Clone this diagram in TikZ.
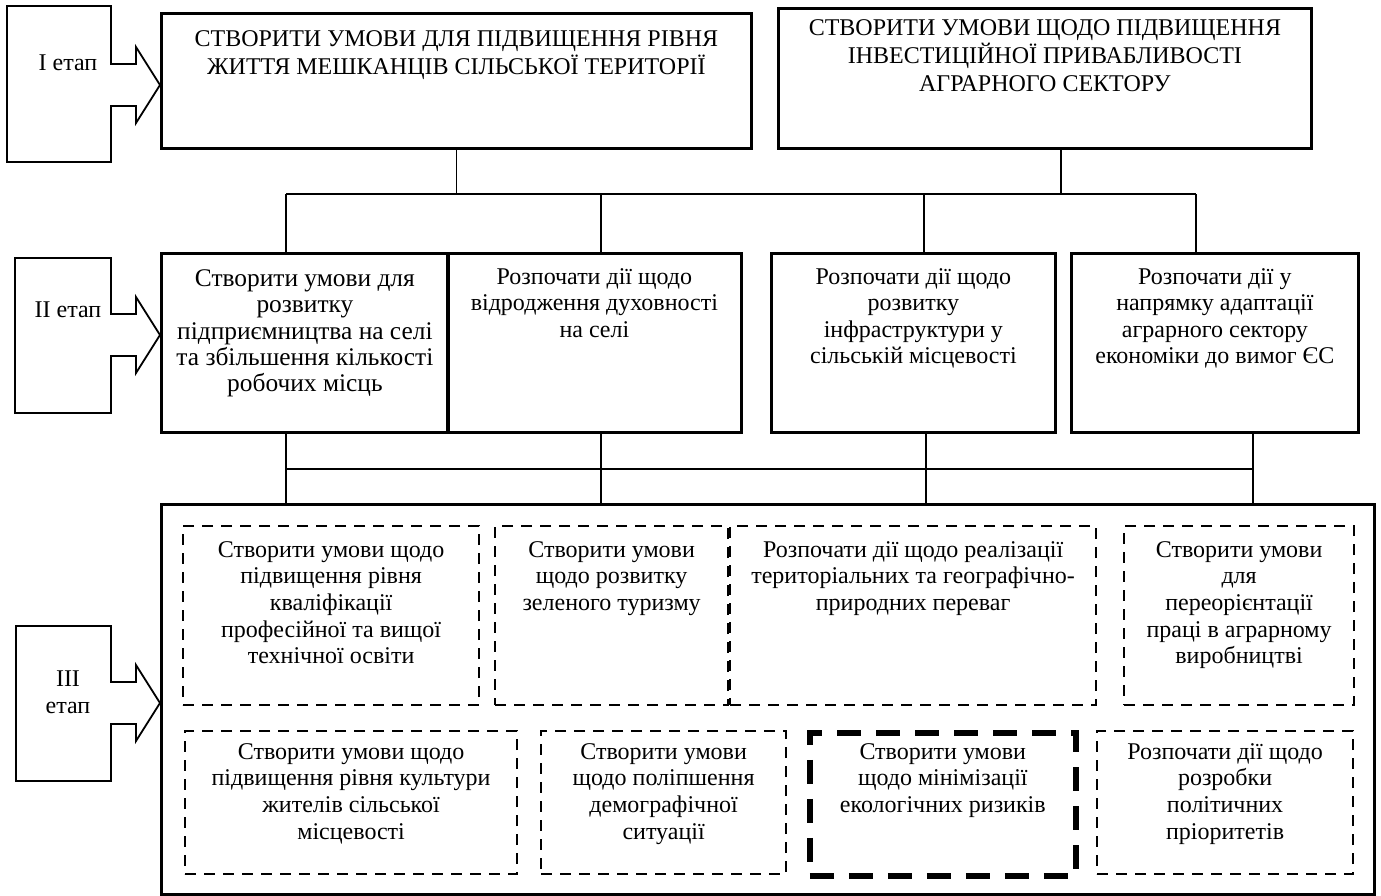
\documentclass[tikz,border=0pt]{standalone}
\usepackage{fontspec}
\setmainfont{Liberation Serif}
\usetikzlibrary{positioning}

\begin{document}
\begin{tikzpicture}[x=0.5pt, y=-0.5pt,
    font=\fontsize{12}{13.3}\selectfont,
    box/.style={draw, line width=1.4pt, anchor=north west, inner sep=0pt},
    dbox/.style={draw, line width=1.1pt, dash pattern=on 5.5pt off 4pt, anchor=north west, inner sep=0pt},
    bigdash/.style={draw, line width=2.8pt, dash pattern=on 12pt off 7.5pt, anchor=north west, inner sep=0pt},
    txt/.style={align=center, inner sep=0pt},
    link/.style={line width=0.6pt},
    stage/.style={line width=0.9pt}]

    \useasboundingbox (0,0) rectangle (1381,895);

    % етапи
    \foreach \lx/\ty/\by/\tip/\ly/\lbl [count=\i] in {7/6/162/85/63/I етап, 15/258/413/335/310/II етап, 16/626/781/703/692/III\\етап} {
        \draw[stage] (\lx,\ty) -- (111,\ty) -- (111,\tip-21) -- (136,\tip-21) -- (136,\tip-38) -- (160,\tip)
            -- (136,\tip+38) -- (136,\tip+21) -- (111,\tip+21) -- (111,\by) -- (\lx,\by) -- cycle;
        \node[txt] (stage\i) at (68,\ly) {\lbl};
    }

    % I етап
    \node[box, minimum width=295pt, minimum height=67.5pt] (top1) at (160,12) {};
    \node[txt, below=9pt of top1.north, font=\fontsize{12}{14}\selectfont] (top1-t)
        {СТВОРИТИ УМОВИ ДЛЯ ПІДВИЩЕННЯ РІВНЯ\\ЖИТТЯ МЕШКАНЦІВ СІЛЬСЬКОЇ ТЕРИТОРІЇ};
    \node[box, minimum width=266.5pt, minimum height=70pt] (top2) at (777,7) {};
    \node[txt, below=6pt of top2.north, font=\fontsize{12}{14}\selectfont] (top2-t)
        {СТВОРИТИ УМОВИ ЩОДО ПІДВИЩЕННЯ\\ІНВЕСТИЦІЙНОЇ ПРИВАБЛИВОСТІ\\АГРАРНОГО СЕКТОРУ};

    % II етап
    \foreach \n/\x/\w/\fs/\gap/\txt in {
        mid1/160/143.5/12.7/8.5/Створити умови для\\розвитку\\підприємництва на селі\\та збільшення кількості\\робочих місць,
        mid2/446/147/12/8/Розпочати дії щодо\\відродження духовності\\на селі,
        mid3/770/142/12/8/Розпочати дії щодо\\розвитку\\інфраструктури у\\сільській місцевості,
        mid4/1070/143.5/12/8/Розпочати дії у\\напрямку адаптації\\аграрного сектору\\економіки до вимог ЄС} {
        \node[box, minimum width=\w pt, minimum height=89.5pt] (\n) at (\x,252) {};
        \node[txt, below=\gap pt of \n.north, font=\fontsize{\fs}{13.2}\selectfont] (\n-t) {\txt};
    }

    % III етап
    \node[box, line width=1.5pt, minimum width=606.5pt, minimum height=195pt] (main) at (160,503) {};
    \foreach \n/\x/\w/\txt in {
        low1/182/148/Створити умови щодо\\підвищення рівня\\кваліфікації\\професійної та вищої\\технічної освіти,
        low2/494/116.5/Створити умови\\щодо розвитку\\зеленого туризму,
        low3/729/183/Розпочати дії щодо реалізації\\територіальних та географічно-\\природних переваг,
        low4/1123/115/Створити умови\\для\\переорієнтації\\праці в аграрному\\виробництві} {
        \node[dbox, minimum width=\w pt, minimum height=89.5pt] (\n) at (\x,525) {};
        \node[txt, below=8pt of \n.north] (\n-t) {\txt};
    }
    \foreach \n/\x/\w/\st/\txt in {
        bot1/184/166/dbox/Створити умови щодо\\підвищення рівня культури\\жителів сільської\\місцевості,
        bot2/540/122.5/dbox/Створити умови\\щодо поліпшення\\демографічної\\ситуації,
        bot3/807/133/bigdash/Створити умови\\щодо мінімізації\\екологічних ризиків,
        bot4/1096/128/dbox/Розпочати дії щодо\\розробки\\політичних\\пріоритетів} {
        \node[\st, minimum width=\w pt, minimum height=71.5pt] (\n) at (\x,730) {};
        \node[txt, below=6.5pt of \n.north] (\n-t) {\txt};
    }

    % зв'язки
    \foreach \x [count=\i] in {286,601,924,1196} \coordinate (up\i) at (\x,194);
    \foreach \x [count=\i] in {286,601,926,1253} \coordinate (dn\i) at (\x,469);
    \coordinate (k2) at (1061,194);
    \draw[link] (top1.south) -- (top1.south |- up1);
    \draw[link] (k2 |- top2.south) -- (k2);
    \draw[link] (up1) -- (up4);
    \foreach \i in {1,...,4} \draw[link] (up\i) -- (up\i |- mid\i.north);
    \draw[link] (dn1) -- (dn4);
    \foreach \i in {1,...,4} \draw[link] (dn\i |- mid\i.south) -- (dn\i |- main.north);
\end{tikzpicture}
\end{document}
